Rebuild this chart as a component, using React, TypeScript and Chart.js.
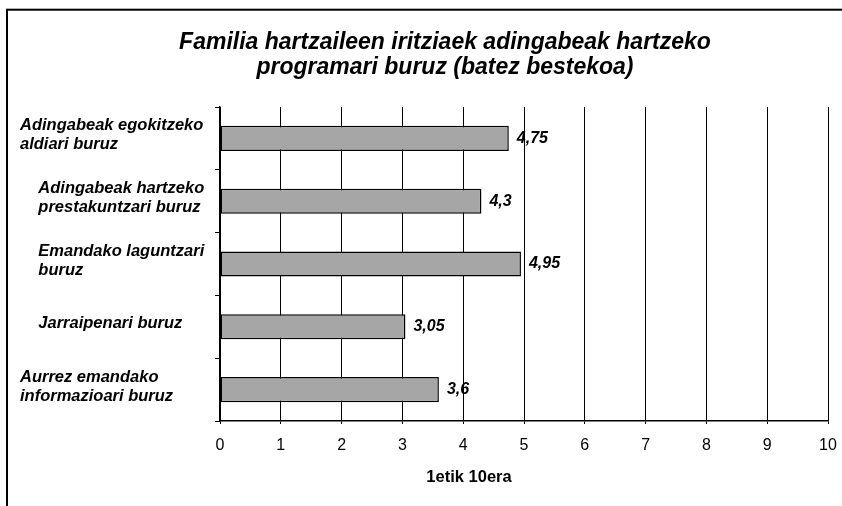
import React, { useEffect, useRef } from "react";
import { Chart, registerables } from "chart.js";

Chart.register(...registerables);

const FONT = "'Liberation Sans', Arial, Helvetica, sans-serif";

// ---- data ----
const titleLines: string[] = [
  "Familia hartzaileen iritziaek adingabeak hartzeko",
  "programari buruz (batez bestekoa)",
];
const categories: string[][] = [
  ["Adingabeak egokitzeko", "aldiari buruz"],
  ["    Adingabeak hartzeko", "    prestakuntzari buruz"],
  ["    Emandako laguntzari", "    buruz"],
  ["    Jarraipenari buruz"],
  ["Aurrez emandako", "informazioari buruz"],
];
const values: number[] = [4.75, 4.3, 4.95, 3.05, 3.6];
const xTickValues: number[] = [0, 1, 2, 3, 4, 5, 6, 7, 8, 9, 10];
const xAxisTitle = "1etik 10era";

const fmt = (v: number) => String(v).replace(".", ",");

const decorPlugin = {
  id: "decor",
  beforeDraw(chart: any) {
    const ctx = chart.ctx;
    ctx.save();
    ctx.strokeStyle = "#000";
    ctx.lineWidth = 2;
    ctx.strokeRect(7, 9.7, 2000, 2000);
    ctx.restore();
  },
  afterDraw(chart: any) {
    const ctx = chart.ctx;
    const yScale = chart.scales.y;
    ctx.save();
    ctx.fillStyle = "#000";
    ctx.textBaseline = "middle";
    // category labels
    ctx.font = `italic bold 16.5px ${FONT}`;
    ctx.textAlign = "left";
    const lh = 19;
    categories.forEach((lines, i) => {
      const cy = yScale.getPixelForTick(i) - 3;
      const start = cy - ((lines.length - 1) * lh) / 2;
      lines.forEach((ln, j) => ctx.fillText(ln, 20, start + j * lh));
    });
    // value labels
    ctx.font = `italic bold 16px ${FONT}`;
    const meta = chart.getDatasetMeta(0);
    meta.data.forEach((el: any, i: number) => {
      ctx.fillText(fmt(values[i]), el.x + 8, el.y);
    });
    // x axis title
    ctx.font = `bold 16.5px ${FONT}`;
    ctx.textAlign = "center";
    ctx.fillText(xAxisTitle, 469, 477);
    ctx.restore();
  },
};

export default function App() {
  const ref = useRef<HTMLCanvasElement>(null);

  useEffect(() => {
    const chart = new Chart(ref.current as HTMLCanvasElement, {
      type: "bar",
      data: {
        labels: categories,
        datasets: [
          {
            data: values,
            backgroundColor: "#a6a6a6",
            borderColor: "#000",
            borderWidth: 1.5,
            borderSkipped: false,
            barPercentage: 0.4,
            categoryPercentage: 1,
          },
        ],
      },
      options: {
        indexAxis: "y",
        responsive: false,
        animation: false,
        devicePixelRatio: 1,
        layout: { padding: { left: 62, right: 14, top: 0, bottom: 0 } },
        plugins: {
          legend: { display: false },
          tooltip: { enabled: false },
          title: {
            display: true,
            text: titleLines,
            color: "#000",
            font: { family: FONT, size: 23, weight: "bold", style: "italic", lineHeight: 25 / 23 },
            padding: { top: 30, bottom: 27 },
          },
        },
        scales: {
          x: {
            type: "linear",
            min: 0,
            max: 10,
            afterBuildTicks: (s: any) => {
              s.ticks = xTickValues.map((v) => ({ value: v }));
            },
            ticks: {
              color: "#000",
              font: { family: FONT, size: 16 },
              padding: 12,
              maxRotation: 0,
            },
            grid: { color: "#000", lineWidth: 1, tickLength: 3, tickColor: "#000" },
            border: { display: true, color: "#000", width: 1.5 },
            afterFit: (s: any) => {
              s.height = 85;
              s.paddingLeft = 0;
              s.paddingRight = 0;
            },
          },
          y: {
            type: "category",
            ticks: { display: false },
            grid: {
              drawOnChartArea: false,
              drawTicks: true,
              tickLength: 5,
              color: "#000",
              tickColor: "#000",
              offset: true,
            },
            border: { display: true, color: "#000", width: 1.5 },
            afterFit: (s: any) => {
              s.width = 158;
            },
          },
        },
      },
      plugins: [decorPlugin],
    } as any);
    return () => chart.destroy();
  }, []);

  return (
    <div style={{ position: "absolute", left: 0, top: 0, width: 842, height: 506, background: "#fff" }}>
      <canvas ref={ref} width={842} height={506} style={{ display: "block", width: 842, height: 506 }} />
    </div>
  );
}
